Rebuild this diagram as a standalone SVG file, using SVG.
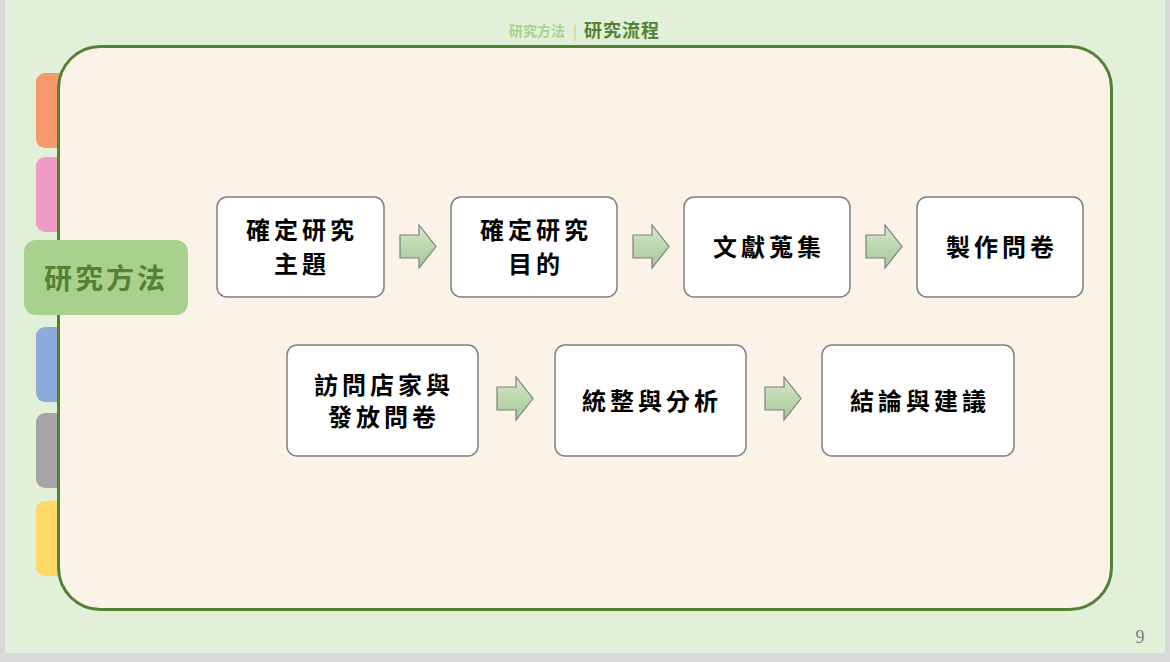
<svg xmlns="http://www.w3.org/2000/svg" width="1170" height="662" viewBox="0 0 1170 662">
<defs>
<linearGradient id="ag" x1="0" y1="0" x2="0" y2="1">
<stop offset="0" stop-color="#d9e8cf"/>
<stop offset="0.5" stop-color="#bcd7ad"/>
<stop offset="1" stop-color="#a9c998"/>
</linearGradient>
<path id="arr" d="M0,10 H19 V0 L36,21.5 L19,43 V33 H0 Z"/>
</defs>
<style>
.node rect{fill:#ffffff;stroke:#7f7f7f;stroke-width:1.5}
.node text,.t{font-family:"Noto Sans CJK TC","Noto Sans CJK SC",sans-serif;font-weight:bold;font-size:24px;fill:#000;text-anchor:middle;letter-spacing:4px}
.arrow use{fill:url(#ag);stroke:#7f7f7f;stroke-width:1.2}
</style>
<rect x="0" y="0" width="1170" height="662" fill="#d9d9d9"/>
<rect x="5" y="0" width="1160" height="653" fill="#e2efd9"/>
<g id="tabs">
<rect x="36" y="73" width="40" height="75" rx="9" fill="#f7996f"/>
<rect x="36" y="157" width="40" height="75" rx="9" fill="#f09cc4"/>
<rect x="36" y="327" width="40" height="75" rx="9" fill="#8eaadb"/>
<rect x="36" y="413" width="40" height="75" rx="9" fill="#a5a5a5"/>
<rect x="36" y="501" width="40" height="75" rx="9" fill="#ffd966"/>
</g>
<rect id="panel" x="58.5" y="46.5" width="1053" height="563" rx="42" fill="#fcf3e8" stroke="#548235" stroke-width="3"/>
<g id="title">
<text x="537" y="36" font-family="Noto Sans CJK TC,sans-serif" font-weight="bold" font-size="14" fill="#a9d18e" text-anchor="middle">研究方法</text>
<text x="575" y="37" font-family="Liberation Serif,serif" font-size="17" fill="#a9d18e" text-anchor="middle">|</text>
<text x="622" y="37" font-family="Noto Sans CJK TC,sans-serif" font-weight="bold" font-size="18" fill="#548235" text-anchor="middle" letter-spacing="1">研究流程</text>
</g>
<g id="section-label">
<rect x="24" y="240" width="164" height="75" rx="12" fill="#a9d18e"/>
<text x="106" y="289" font-family="Noto Sans CJK TC,sans-serif" font-weight="bold" font-size="28" fill="#548235" text-anchor="middle" letter-spacing="3">研究方法</text>
</g>
<g id="n1" class="node"><rect x="217" y="197" width="167" height="100" rx="10"/><text x="302" y="239">確定研究</text><text x="302" y="273">主題</text></g>
<g id="n2" class="node"><rect x="451" y="197" width="166" height="100" rx="10"/><text x="536" y="239">確定研究</text><text x="536" y="273">目的</text></g>
<g id="n3" class="node"><rect x="684" y="197" width="166" height="100" rx="10"/><text x="769" y="256">文獻蒐集</text></g>
<g id="n4" class="node"><rect x="917" y="197" width="166" height="100" rx="10"/><text x="1002" y="256">製作問卷</text></g>
<g id="n5" class="node"><rect x="287" y="345" width="191" height="111" rx="10"/><text x="384" y="394">訪問店家與</text><text x="384" y="426">發放問卷</text></g>
<g id="n6" class="node"><rect x="555" y="345" width="191" height="111" rx="10"/><text x="652" y="410">統整與分析</text></g>
<g id="n7" class="node"><rect x="822" y="345" width="192" height="111" rx="10"/><text x="920" y="410">結論與建議</text></g>
<g id="connectors" class="arrow">
<use href="#arr" x="400" y="225"/>
<use href="#arr" x="633" y="225"/>
<use href="#arr" x="866" y="225"/>
<use href="#arr" x="497" y="377"/>
<use href="#arr" x="765" y="377"/>
</g>
<text x="1140" y="643" font-family="Liberation Serif,serif" font-size="18" fill="#7f7f7f" text-anchor="middle">9</text>
</svg>
